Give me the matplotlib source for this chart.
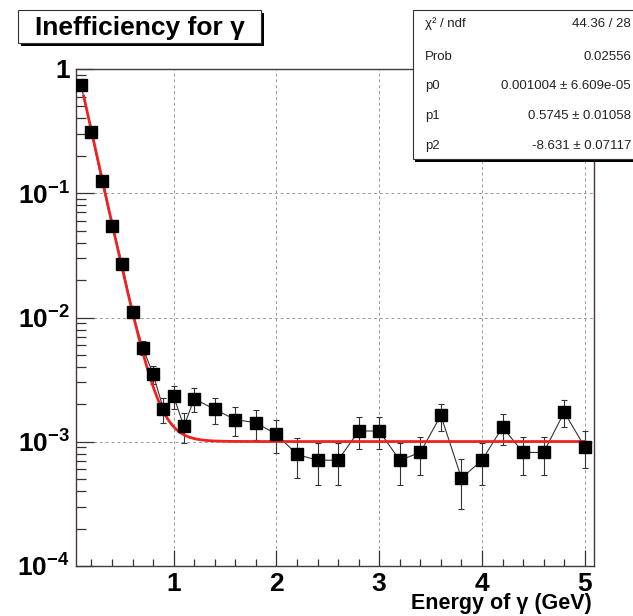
import numpy as np
import matplotlib
matplotlib.use("Agg")
import matplotlib.pyplot as plt
from matplotlib.patches import Rectangle
from matplotlib.ticker import FixedLocator, FuncFormatter, LogLocator, NullFormatter, MultipleLocator

plt.rcParams['font.family'] = ['Liberation Sans', 'DejaVu Sans']
plt.rcParams['mathtext.fontset'] = 'custom'
plt.rcParams['mathtext.rm'] = 'Liberation Sans'
plt.rcParams['mathtext.bf'] = 'Liberation Sans:bold'
plt.rcParams['mathtext.it'] = 'Liberation Sans:italic'

# ---- data ----
energy = [0.1, 0.2, 0.3, 0.4, 0.5, 0.6, 0.7, 0.8, 0.9, 1.0, 1.1, 1.2,
          1.4, 1.6, 1.8, 2.0, 2.2, 2.4, 2.6, 2.8, 3.0, 3.2, 3.4, 3.6,
          3.8, 4.0, 4.2, 4.4, 4.6, 4.8, 5.0]
ineff = [0.74, 0.31, 0.125, 0.055, 0.027, 0.011, 0.0057, 0.0035, 0.00184,
         0.00232, 0.00133, 0.00222, 0.00182, 0.00151, 0.00142, 0.00115,
         0.00079, 0.00071, 0.00071, 0.00122, 0.00122, 0.00071, 0.00082,
         0.00163, 0.00051, 0.00071, 0.00131, 0.00082, 0.00082, 0.00173,
         0.00091]
ineff_err = [0.01, 0.006, 0.0035, 0.0023, 0.0016, 0.001, 0.00075, 0.0006,
             0.00043, 0.00048, 0.00036, 0.00047, 0.00043, 0.00039, 0.00038,
             0.00034, 0.00028, 0.00026, 0.00026, 0.00035, 0.00035, 0.00026,
             0.00028, 0.0004, 0.00022, 0.00026, 0.00036, 0.00028, 0.00028,
             0.00042, 0.0003]

# fit parameters (from stats box): f(x) = p0 + exp(p1 + p2*x)
p0, p1, p2 = 0.001004, 0.5745, -8.631
fit_range = (0.125, 5.0)

stat_labels = ["\u03c7\u00b2 / ndf", "Prob", "p0", "p1", "p2"]
stat_values = ["44.36 / 28", "0.02556", "0.001004 \u00b1 6.609e-05",
               "0.5745 \u00b1 0.01058", "-8.631 \u00b1 0.07117"]

title_text = "Inefficiency for \u03b3"
xlabel_text = "Energy of \u03b3 (GeV)"

W, H = 633, 616
fig = plt.figure(figsize=(W / 100, H / 100), dpi=100)

def fx(px):
    return px / W

def fy(py):
    return 1 - py / H

ax_l, ax_r, ax_t, ax_b = 75.5, 594, 69, 566
ax = fig.add_axes([fx(ax_l), fy(ax_b), fx(ax_r) - fx(ax_l), fy(ax_t) - fy(ax_b)])
ax.set_yscale('log')
ax.set_xlim(0.045, 5.09)
ax.set_ylim(1e-4, 1.0)

# grid
ax.grid(True, which='major', color='#999999', linestyle=(0, (3, 3)), linewidth=0.7)

# data
ax.plot(energy, ineff, color='#333333', linewidth=0.8, zorder=3)
ax.errorbar(energy, ineff, yerr=ineff_err, fmt='none', ecolor='#333333',
            elinewidth=0.8, capsize=2, capthick=0.8, zorder=3)

# fit
xf = np.linspace(fit_range[0], fit_range[1], 400)
ax.plot(xf, p0 + np.exp(p1 + p2 * xf), color='#ee2222', linewidth=2.0, zorder=4)

ax.plot(energy, ineff, linestyle='none', marker='s', markersize=8.3,
        color='black', zorder=5)

# ticks
ax.xaxis.set_major_locator(FixedLocator([1, 2, 3, 4, 5]))
ax.xaxis.set_minor_locator(MultipleLocator(0.2))
ax.yaxis.set_major_locator(FixedLocator([1e-4, 1e-3, 1e-2, 1e-1, 1]))
ax.yaxis.set_minor_locator(LogLocator(base=10, subs=np.arange(2, 10)))
ax.yaxis.set_minor_formatter(NullFormatter())

def yfmt(v, pos):
    e = int(round(np.log10(v)))
    if e == 0:
        return "1"
    return r"$\mathbf{10^{%d}}$" % e

ax.yaxis.set_major_formatter(FuncFormatter(yfmt))
ax.xaxis.set_major_formatter(FuncFormatter(lambda v, p: "%d" % v))

ax.tick_params(axis='both', which='both', direction='in', top=False, right=False,
               colors='#333333', labelcolor='black', width=0.9)
ax.tick_params(axis='x', which='major', length=11.5, labelsize=19, pad=4)
ax.tick_params(axis='x', which='minor', length=5)
ax.tick_params(axis='y', which='major', length=13, labelsize=19, pad=4)
ax.tick_params(axis='y', which='minor', length=7)
for lab in ax.get_xticklabels() + ax.get_yticklabels():
    lab.set_fontweight('bold')

for s in ax.spines.values():
    s.set_color('#4a3838')
    s.set_linewidth(1.0)

# x label
fig.text(fx(592), fy(604), xlabel_text, ha='right', va='center',
         fontsize=15.5, fontweight='bold')

# title box with shadow
tb_l, tb_t, tb_r, tb_b = 18, 10, 261, 43
fig.patches.append(Rectangle((fx(tb_l + 3), fy(tb_b + 3)), fx(tb_r) - fx(tb_l),
                             fy(tb_t) - fy(tb_b), transform=fig.transFigure,
                             facecolor='black', edgecolor='none', zorder=1))
fig.patches.append(Rectangle((fx(tb_l), fy(tb_b)), fx(tb_r) - fx(tb_l),
                             fy(tb_t) - fy(tb_b), transform=fig.transFigure,
                             facecolor='white', edgecolor='#333333', linewidth=0.8,
                             zorder=2))
fig.text(fx((tb_l + tb_r) / 2), fy((tb_t + tb_b) / 2 + 1), title_text,
         ha='center', va='center', fontsize=19, fontweight='bold', zorder=3)

# stats box with shadow
sb_l, sb_t, sb_r, sb_b = 412.5, 10, 645, 158.5
fig.patches.append(Rectangle((fx(sb_l + 3), fy(sb_b + 3)), fx(sb_r) - fx(sb_l),
                             fy(sb_t) - fy(sb_b), transform=fig.transFigure,
                             facecolor='black', edgecolor='none', zorder=6))
fig.patches.append(Rectangle((fx(sb_l), fy(sb_b)), fx(sb_r) - fx(sb_l),
                             fy(sb_t) - fy(sb_b), transform=fig.transFigure,
                             facecolor='white', edgecolor='#333333', linewidth=0.8,
                             zorder=7))
row_y = [24, 57, 86, 116, 146]
for lab, val, yy in zip(stat_labels, stat_values, row_y):
    fig.text(fx(425), fy(yy), lab, ha='left', va='center', fontsize=9.5,
             color='#222222', zorder=8)
    fig.text(fx(631), fy(yy), val, ha='right', va='center', fontsize=9.5,
             color='#222222', zorder=8)

fig.savefig("out.png", dpi=100)
